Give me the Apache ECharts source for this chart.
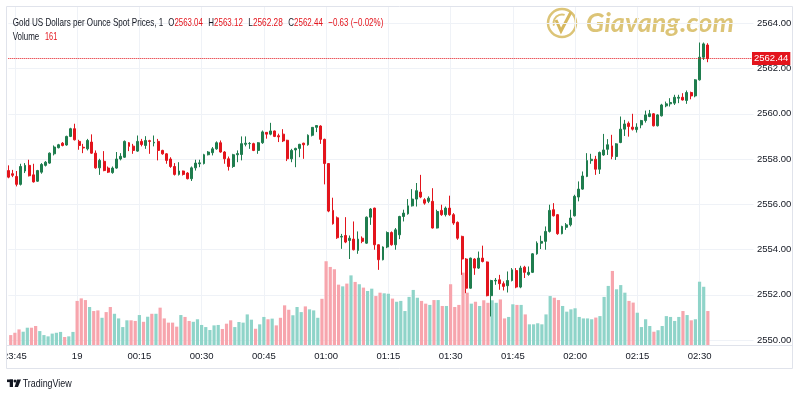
<!DOCTYPE html>
<html><head><meta charset="utf-8">
<script src="https://cdn.jsdelivr.net/npm/echarts@6/dist/echarts.min.js"></script>
<style>html,body{margin:0;padding:0;background:#fff}#c{width:800px;height:400px}</style>
</head><body><div id="c"></div>
<script>
// ---- data ----
const startTime = '23:44';
const slotCount = 180;  // 169 candles + empty right margin slots
const opens = [
2557.49,2557.35,2557.23,2556.88,2557.47,2557.72,2557.30,2557.02,2557.42,2557.72,
2557.82,2558.23,2558.50,2558.70,2558.62,2559.00,2559.34,2558.78,2558.52,2558.45,
2558.75,2558.26,2557.61,2557.90,2557.60,2557.40,2557.60,2558.00,2558.08,2558.72,
2558.57,2558.35,2558.78,2558.60,2558.81,2558.71,2558.78,2558.38,2558.23,2558.00,
2557.67,2557.32,2557.47,2557.38,2557.13,2557.61,2557.79,2557.80,2558.19,2558.28,
2558.45,2558.72,2558.31,2558.01,2557.67,2558.19,2558.20,2558.65,2558.68,2558.68,
2558.38,2558.72,2559.18,2559.10,2559.24,2559.03,2559.10,2558.83,2558.01,2558.40,
2558.47,2558.70,2558.63,2559.05,2559.40,2559.46,2558.87,2557.80,2555.73,2555.40,
2554.55,2554.62,2554.40,2554.46,2553.96,2554.50,2554.28,2555.43,2555.83,2554.21,
2553.55,2554.11,2554.75,2554.21,2554.65,2555.46,2555.58,2555.93,2556.23,2556.54,
2556.20,2556.13,2556.13,2554.95,2555.73,2555.54,2555.83,2555.54,2555.20,2554.58,
2553.58,2552.29,2553.58,2553.18,2553.62,2553.45,2551.96,2552.61,2552.66,2552.49,
2552.40,2552.63,2553.07,2552.34,2553.22,2552.90,2552.99,2553.81,2554.28,2554.36,
2554.80,2555.76,2555.54,2554.70,2554.98,2555.09,2555.49,2556.32,2556.67,2557.23,
2557.93,2557.99,2557.55,2558.18,2558.43,2558.58,2558.11,2558.73,2559.32,2559.58,
2559.41,2559.30,2559.51,2559.70,2559.88,2560.00,2559.47,2559.91,2560.35,2560.44,
2560.47,2560.69,2560.73,2560.59,2560.94,2560.79,2561.50,2562.50,2563.04];
const closes = [
2557.20,2557.28,2556.88,2557.67,2557.72,2557.26,2556.99,2557.49,2557.76,2557.86,
2558.26,2558.53,2558.63,2558.60,2559.00,2559.34,2558.85,2558.60,2558.49,2558.82,
2558.26,2557.61,2557.94,2557.49,2557.42,2557.60,2558.00,2558.12,2558.78,2558.56,
2558.38,2558.78,2558.64,2558.82,2558.78,2558.74,2558.38,2558.23,2557.94,2557.67,
2557.32,2557.47,2557.32,2557.13,2557.61,2557.82,2557.83,2558.19,2558.31,2558.45,
2558.72,2558.31,2558.01,2557.67,2558.19,2558.24,2558.68,2558.70,2558.69,2558.38,
2558.72,2559.20,2559.10,2559.24,2559.00,2558.98,2558.80,2558.01,2558.38,2558.47,
2558.65,2558.63,2559.05,2559.40,2559.48,2558.87,2557.80,2555.70,2555.14,2554.52,
2554.58,2554.33,2554.50,2553.99,2554.46,2554.36,2555.43,2555.79,2554.21,2553.55,
2554.11,2554.75,2554.21,2554.87,2555.46,2555.61,2555.93,2556.23,2556.60,2556.32,
2556.05,2556.27,2554.95,2555.68,2555.54,2555.83,2555.54,2555.17,2554.50,2553.58,
2552.29,2553.62,2553.18,2553.62,2553.47,2551.96,2552.63,2552.64,2552.49,2552.37,
2552.63,2553.10,2552.34,2553.18,2552.99,2552.99,2553.81,2554.28,2554.36,2554.80,
2555.73,2555.49,2554.70,2555.02,2555.09,2555.39,2556.35,2556.67,2557.25,2557.93,
2557.99,2557.55,2558.29,2558.40,2558.63,2558.11,2558.67,2559.32,2559.55,2559.44,
2559.32,2559.41,2559.70,2559.95,2560.00,2559.47,2559.95,2560.39,2560.44,2560.50,
2560.73,2560.73,2560.61,2560.94,2560.79,2561.50,2562.50,2563.09,2562.44];
const lows = [
2557.15,2557.20,2556.79,2556.83,2557.38,2557.23,2556.96,2556.99,2557.35,2557.67,
2557.79,2558.16,2558.47,2558.56,2558.59,2558.97,2558.82,2558.41,2558.26,2558.38,
2558.23,2557.57,2557.30,2557.46,2557.38,2557.35,2557.57,2557.94,2558.05,2558.35,
2558.23,2558.32,2558.56,2558.45,2558.23,2558.56,2557.94,2558.19,2557.79,2557.61,
2557.27,2557.27,2557.27,2557.10,2557.03,2557.49,2557.64,2557.76,2558.16,2558.16,
2558.41,2558.28,2557.79,2557.49,2557.61,2557.86,2557.94,2558.56,2558.45,2558.35,
2558.23,2558.67,2558.90,2559.05,2558.97,2558.75,2558.75,2557.91,2557.86,2557.64,
2558.08,2558.01,2558.59,2559.00,2559.19,2558.67,2556.88,2555.65,2555.10,2554.47,
2554.03,2554.28,2553.58,2553.96,2553.81,2554.28,2554.25,2555.09,2553.99,2553.10,
2553.52,2554.06,2554.17,2553.99,2554.46,2555.24,2555.54,2555.90,2555.90,2556.27,
2555.98,2556.05,2554.93,2554.93,2555.49,2555.46,2555.49,2555.09,2554.43,2552.88,
2552.07,2552.27,2552.88,2553.14,2553.43,2551.93,2551.04,2552.44,2552.22,2552.19,
2552.10,2552.59,2552.29,2552.29,2552.74,2552.84,2552.96,2553.77,2554.02,2553.99,
2554.75,2555.46,2554.65,2554.67,2554.87,2555.02,2555.46,2556.13,2556.64,2557.20,
2557.79,2557.30,2557.34,2558.14,2558.18,2557.99,2557.96,2558.70,2559.02,2558.99,
2559.26,2559.17,2559.36,2559.61,2559.85,2559.44,2559.44,2559.88,2560.29,2560.32,
2560.39,2560.47,2560.59,2560.44,2560.64,2560.73,2561.47,2562.38,2562.28];
const highs = [
2557.72,2557.52,2557.47,2557.79,2557.82,2557.97,2557.79,2557.52,2557.82,2557.91,
2558.29,2558.60,2558.67,2558.75,2559.03,2559.38,2559.56,2558.85,2558.67,2558.89,
2559.09,2558.38,2558.01,2558.35,2557.67,2557.67,2558.31,2558.26,2558.82,2558.75,
2558.67,2559.04,2558.89,2559.01,2558.85,2559.04,2558.89,2558.41,2558.26,2558.08,
2557.82,2557.86,2557.49,2557.42,2557.67,2557.97,2557.97,2558.23,2558.35,2558.53,
2558.78,2558.82,2558.35,2558.11,2558.23,2558.38,2559.00,2559.00,2558.75,2558.72,
2558.75,2559.26,2559.18,2559.60,2559.26,2559.12,2559.32,2558.85,2558.45,2558.50,
2558.67,2558.72,2559.09,2559.41,2559.48,2559.49,2558.90,2557.82,2556.29,2555.46,
2554.69,2555.43,2554.62,2555.24,2554.80,2554.58,2555.46,2555.83,2555.85,2554.23,
2554.14,2554.80,2554.80,2554.95,2555.49,2555.76,2556.23,2556.67,2556.94,2557.30,
2556.27,2556.35,2556.71,2555.76,2555.98,2555.90,2556.38,2555.61,2555.24,2554.61,
2553.62,2553.64,2553.62,2553.91,2554.17,2553.47,2552.66,2552.74,2552.88,2552.59,
2553.03,2553.18,2553.18,2553.28,2553.28,2553.25,2553.84,2554.36,2554.61,2555.02,
2555.98,2556.05,2555.57,2555.05,2555.17,2555.76,2556.42,2557.01,2557.45,2558.26,
2558.23,2558.14,2558.33,2559.11,2558.88,2559.07,2558.70,2559.88,2559.73,2559.66,
2560.00,2559.58,2559.73,2560.14,2560.17,2560.03,2559.98,2560.44,2560.54,2560.69,
2560.84,2560.84,2560.91,2561.03,2560.98,2561.53,2563.15,2563.15,2563.12];
const volumes = [
47,58,74,63,82,82,90,66,47,41,54,58,62,38,41,62,209,221,213,180,161,164,129,156,180,148,126,
85,117,117,114,142,110,134,148,148,177,126,106,106,87,142,133,114,110,122,95,85,71,93,95,76,101,117,85,
109,106,145,120,77,98,133,122,125,93,129,188,167,141,180,156,183,169,164,129,219,397,370,359,286,278,291,330,
299,288,272,256,267,232,248,245,243,220,205,209,161,228,261,224,209,196,190,213,213,185,185,288,180,190,343,
248,196,205,185,212,200,212,200,216,126,133,193,190,190,145,98,98,103,98,145,232,224,213,185,158,169,174,133,
126,126,122,130,137,228,280,351,264,284,248,209,201,153,85,122,90,63,70,90,137,133,114,133,161,142,117,122,300,276,161];
const tickTimes  = ['23:45','00:00','00:15','00:30','00:45','01:00','01:15','01:30','01:45','02:00','02:15','02:30'];
const tickLabels = ['23:45','19','00:15','00:30','00:45','01:00','01:15','01:30','01:45','02:00','02:15','02:30'];
const priceMin = 2550, priceMax = 2564, priceStep = 2;
const volumeMax = 1602;
const lastPrice = 2562.44;
const lastVolume = 161;
const headerName = 'Gold US Dollars per Ounce Spot Prices, 1';
const headerKeys = ['O','H','L','C'];
const headerVals = ['2563.04','2563.12','2562.28','2562.44'];
const headerChange = '\u22120.63 (\u22120.02%)';

// ---- build ----
const UP = '#1f7d4e', DOWN = '#e3141c';
const VUP = '#8fd4c9', VDOWN = '#f7a5ad';
const DARK = '#131722';
const FONT = "'Liberation Sans', Arial, sans-serif";
const cats = [];
(function(){
  const p = startTime.split(':');
  const m0 = (+p[0])*60 + (+p[1]);
  for (let i=0;i<slotCount;i++){
    const m = (m0+i)%1440;
    cats.push(String(Math.floor(m/60)).padStart(2,'0')+':'+String(m%60).padStart(2,'0'));
  }
})();
const candleData = opens.map((o,i)=>[o, closes[i], lows[i], highs[i]]);
const volData = volumes.map((v,i)=>({value:v, itemStyle:{color: closes[i]>=opens[i]?VUP:VDOWN}}));
const isTick = (idx, val) => tickTimes.indexOf(val) >= 0;

// text fitting (the reference uses a condensed UI font)
const mctx = document.createElement('canvas').getContext('2d');
function fitScale(text, size, target){ mctx.font = size+'px '+FONT; return target / mctx.measureText(text).width; }
const HS = 11.5;
function richText(x, y, parts, target){
  const plain = parts.map(p=>p[0]).join('');
  return {type:'text', x:x, y:y, scaleX:fitScale(plain, HS, target), z:101,
    style:{text: parts.map(p=>'{'+p[1]+'|'+p[0]+'}').join(''), verticalAlign:'middle', align:'left',
      rich:{ n:{fill:DARK, fontSize:HS, fontFamily:FONT}, r:{fill:DOWN, fontSize:HS, fontFamily:FONT} }}};
}
const headerX = [168.3, 208.3, 248.3, 288.3];
const headerGraphics = [ richText(12.7, 22.5, [[headerName,'n']], 150.6) ];
headerKeys.forEach((k,i)=>headerGraphics.push(richText(headerX[i], 22.5, [[k,'n'],[headerVals[i],'r']], 34.5)));
headerGraphics.push(richText(328.3, 22.5, [[headerChange,'r']], 55));
headerGraphics.push(richText(12.7, 36.7, [['Volume','n']], 26.6));
headerGraphics.push(richText(45, 36.7, [[String(lastVolume),'r']], 12.3));

const chart = echarts.init(document.getElementById('c'), null, {renderer:'canvas'});
chart.setOption({
  animation:false,
  backgroundColor:'#fff',
  grid:[
    {left:8.3, right:46.5, top:23.3, bottom:60},
    {left:8.3, right:46.5, top:7, bottom:55}
  ],
  xAxis:[
    {type:'category', gridIndex:0, data:cats, boundaryGap:false,
     axisLine:{show:false}, axisTick:{show:false}, axisLabel:{show:false}, splitLine:{show:false}},
    {type:'category', gridIndex:1, data:cats, boundaryGap:false,
     axisLine:{show:false}, axisTick:{show:false},
     axisLabel:{interval:isTick, margin:6.5, color:DARK, fontSize:9.5, fontFamily:FONT,
       formatter:(v)=>{const k=tickTimes.indexOf(v); return k>=0?tickLabels[k]:'';}},
     splitLine:{show:true, interval:isTick, lineStyle:{color:'#eff2f7', width:1}}}
  ],
  yAxis:[
    {type:'value', gridIndex:0, position:'right', min:priceMin, max:priceMax, interval:priceStep,
     axisLine:{show:false}, axisTick:{show:false},
     axisLabel:{margin:3.5, color:DARK, fontSize:9.5, fontFamily:FONT, formatter:(v)=>v.toFixed(2)},
     splitLine:{lineStyle:{color:'#eff2f7', width:1}}},
    {type:'value', gridIndex:1, min:0, max:volumeMax, show:false, splitLine:{show:false}}
  ],
  series:[
    {type:'bar', xAxisIndex:1, yAxisIndex:1, data:volData, barWidth:3.2, clip:false, z:2, silent:true,
     markLine:{silent:true, symbol:'none', animation:false,
       data:[{yAxis:lastVolume}],
       lineStyle:{opacity:0},
       label:{show:true, position:'end', distance:-1.5, formatter:String(lastVolume), color:'#fff',
         backgroundColor:'#f26b78', padding:[2,3,1,3], fontSize:9.5, fontFamily:FONT}}},
    {type:'candlestick', xAxisIndex:0, yAxisIndex:0, data:candleData, barWidth:2.4, clip:false, z:3, silent:true,
     itemStyle:{color:UP, color0:DOWN, borderColor:UP, borderColor0:DOWN, borderWidth:1},
     markLine:{silent:true, symbol:'none', animation:false,
       data:[{yAxis:lastPrice}],
       lineStyle:{type:'dotted', color:DOWN, width:1},
       label:{show:true, position:'end', distance:-1.5, formatter:lastPrice.toFixed(2), color:'#fff',
         backgroundColor:DOWN, padding:[2,2,1,2], fontSize:9.5, fontFamily:FONT}}}
  ],
  graphic:[
    // watermark
    {type:'circle', shape:{cx:562, cy:23, r:14}, style:{fill:'none', stroke:'#dcc477', lineWidth:2.5}, z:0},
    {type:'arc', shape:{cx:562, cy:23, r:8.5, startAngle:Math.PI*0.9, endAngle:Math.PI*1.6}, style:{fill:'none', stroke:'#dcc477', lineWidth:2}, z:0},
    {type:'polyline', shape:{points:[[556,20],[561,31],[571,12]]}, style:{fill:'none', stroke:'#d6b85f', lineWidth:3}, z:0},
    {type:'text', x:586, y:23, style:{text:'Giavang.com', font:'italic bold 27px Lato, "Open Sans", sans-serif', fill:'#dcc477', verticalAlign:'middle', align:'left'}, z:0},
    // left cover + frame
    {type:'rect', shape:{x:0, y:0, width:6.5, height:400}, style:{fill:'#fff'}, z:100},
    {type:'rect', shape:{x:6.5, y:6.5, width:786, height:362}, style:{fill:'none', stroke:'#e0e3eb', lineWidth:1}, z:101},
    {type:'line', shape:{x1:6.5, y1:345.5, x2:792.5, y2:345.5}, style:{stroke:'#e0e3eb', lineWidth:1}, z:101},
    // TradingView logo
    {type:'rect', shape:{x:7, y:379.5, width:6, height:2.6}, style:{fill:DARK}, z:101},
    {type:'rect', shape:{x:9.7, y:379.5, width:3.3, height:7.5}, style:{fill:DARK}, z:101},
    {type:'circle', shape:{cx:15, cy:381, r:1.5}, style:{fill:DARK}, z:101},
    {type:'polygon', shape:{points:[[17,379.5],[21,379.5],[18,387],[14.6,387]]}, style:{fill:DARK}, z:101},
    {type:'text', x:22.7, y:383.5, scaleX:fitScale('TradingView', 11, 49), style:{text:'TradingView', font:'11px '+FONT, fill:DARK, verticalAlign:'middle'}, z:101}
  ].concat(headerGraphics)
});
</script></body></html>
